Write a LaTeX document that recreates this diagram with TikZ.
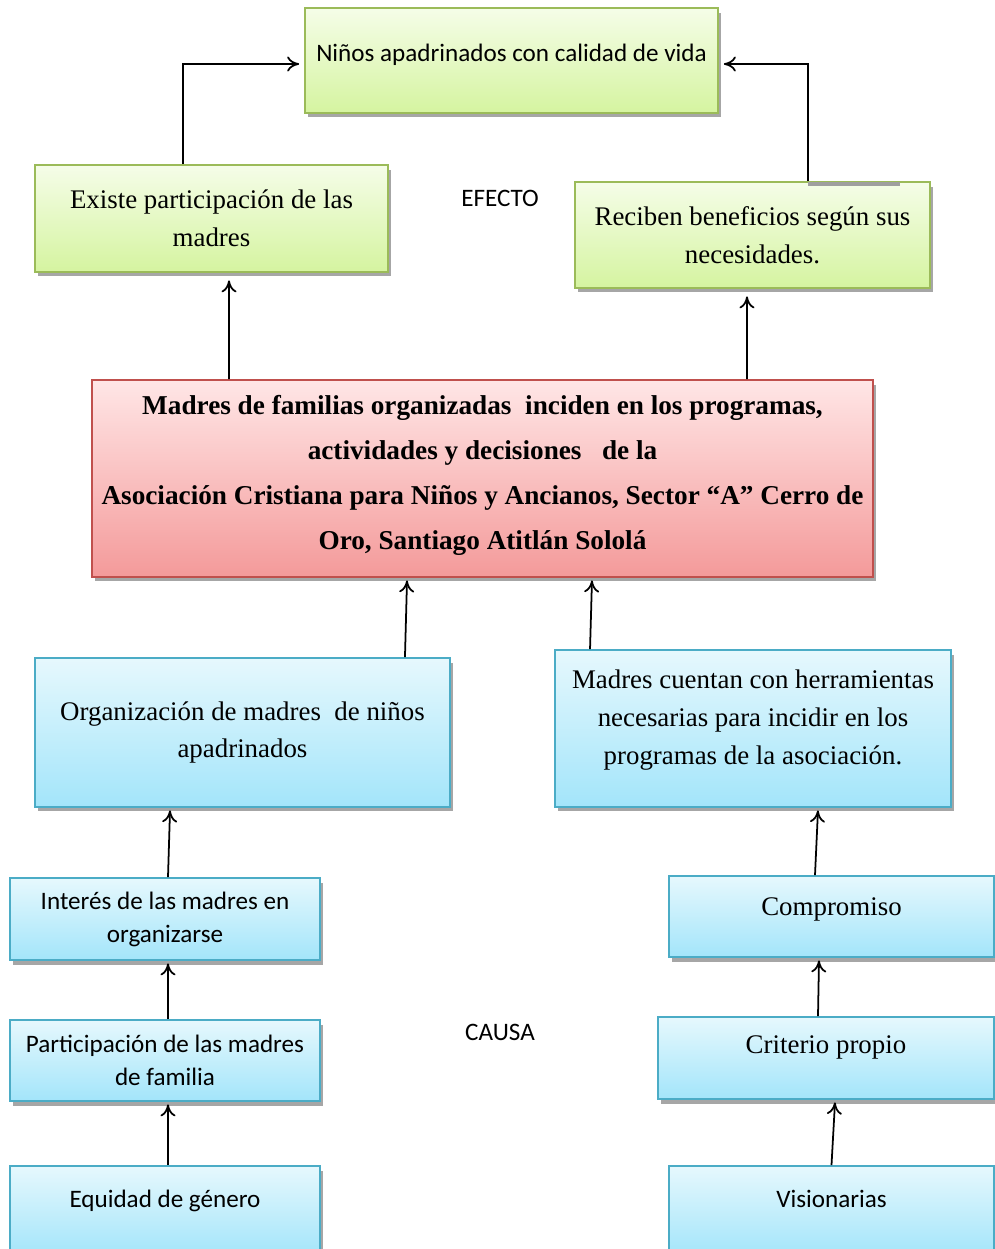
\documentclass[tikz,border=0pt]{standalone}
\usepackage{fontspec}
\setmainfont{Liberation Serif}
\newfontfamily\calibri{Carlito}
\usetikzlibrary{arrows.meta, shadows}

\definecolor{grnline}{HTML}{9BBB59}
\definecolor{grntop}{HTML}{F5FDE8}
\definecolor{grnbot}{HTML}{D5F4A0}
\definecolor{redline}{HTML}{C0504D}
\definecolor{redtop}{HTML}{FFE6E6}
\definecolor{redbot}{HTML}{F49A9A}
\definecolor{bluline}{HTML}{4BACC6}
\definecolor{blutop}{HTML}{E6F8FD}
\definecolor{blubot}{HTML}{A3E5FA}

\begin{document}
\begin{tikzpicture}[
    x=0.02cm, y=-0.02cm,
    box/.style={rectangle, draw, line width=1pt, align=center,
        drop shadow={shadow xshift=0.6mm, shadow yshift=-0.9mm, fill=black, opacity=0.35}},
    effbox/.style={box, draw=grnline, top color=grntop, bottom color=grnbot},
    midbox/.style={box, draw=redline, top color=redtop, bottom color=redbot},
    causebox/.style={box, draw=bluline, top color=blutop, bottom color=blubot},
    serif/.style={font=\fontsize{15.3}{21.5}\selectfont},
    sans/.style={font=\calibri\fontsize{14.3}{18.7}\selectfont},
    arrow/.style={-{To[length=2.4mm, width=3mm]}, line width=1pt}
]
    \useasboundingbox (0,0) rectangle (995,1249);

    % Effects
    \node [effbox, sans, minimum width=8.26cm, minimum height=2.1cm] (nino) at (511.5,60.5)
        {Niños apadrinados con calidad de vida\\[-9.7pt]};
    \node [effbox, serif, minimum width=7.06cm, minimum height=2.14cm] (existe) at (211.5,218.5)
        {Existe participación de las\\madres};
    \node [effbox, serif, minimum width=7.1cm, minimum height=2.12cm] (reciben) at (752.5,235)
        {Reciben beneficios según sus\\necesidades.};
    \node [sans] (efecto) at (500,198) {EFECTO};

    % Problem
    \node [midbox, font=\bfseries\fontsize{15.5}{25.5}\selectfont, minimum width=15.62cm, minimum height=3.94cm] (central) at (482.5,478.5)
        {Madres de familias organizadas\ \ inciden en los programas,\\
         actividades y decisiones\ \ \ de la\\
         Asociación Cristiana para Niños y Ancianos, Sector “A” Cerro de\\
         Oro, Santiago Atitlán Sololá\\[-18.7pt]};

    % Causes
    \node [causebox, serif, minimum width=8.3cm, minimum height=2.98cm] (org) at (242.5,732.5)
        {Organización de madres\ \ de niños\\apadrinados};
    \node [causebox, serif, minimum width=7.92cm, minimum height=3.14cm] (herram) at (753,728.5)
        {Madres cuentan con herramientas\\necesarias para incidir en los\\programas de la asociación.\\[-8.5pt]};
    \node [causebox, sans, minimum width=6.2cm, minimum height=1.64cm] (interes) at (165,919)
        {Interés de las madres en\\organizarse};
    \node [causebox, serif, minimum width=6.5cm, minimum height=1.62cm] (comp) at (831.5,916.5)
        {Compromiso\\[-10.7pt]};
    \node [causebox, sans, minimum width=6.2cm, minimum height=1.62cm] (partic) at (165,1060.5)
        {Participación de las madres\\de familia};
    \node [causebox, serif, minimum width=6.72cm, minimum height=1.64cm] (criterio) at (826,1058)
        {Criterio propio\\[-6.7pt]};
    \node [causebox, sans, minimum width=6.2cm, minimum height=1.8cm] (equidad) at (165,1211)
        {Equidad de género\\[-5.1pt]};
    \node [causebox, sans, minimum width=6.5cm, minimum height=1.8cm] (vision) at (831.5,1211)
        {Visionarias\\[-5.1pt]};
    \node [sans] (causa) at (500,1032) {CAUSA};

    % Arrows
    \draw [arrow] ([xshift=-0.57cm]existe.north) |- ([yshift=-0.07cm, xshift=-1mm]nino.west);
    \draw [arrow] ([xshift=1.11cm]reciben.north) |- ([yshift=-0.07cm, xshift=1mm]nino.east);
    \draw [line width=2.2pt, gray!75] ([xshift=1.11cm, yshift=-0.5mm]reciben.north) -- ([xshift=2.95cm, yshift=-0.5mm]reciben.north);
    \draw [arrow] ([xshift=-5.07cm]central.north) -- ([xshift=0.35cm, yshift=-1.5mm]existe.south);
    \draw [arrow] ([xshift=5.29cm]central.north) -- ([xshift=-0.11cm, yshift=-1.5mm]reciben.south);
    \draw [arrow] ([xshift=3.25cm]org.north) -- ([xshift=-1.51cm, yshift=-0.5mm]central.south);
    \draw [arrow] ([xshift=-3.26cm]herram.north) -- ([xshift=2.19cm, yshift=-0.5mm]central.south);
    \draw [arrow] ([xshift=0.06cm]interes.north) -- ([xshift=-1.45cm, yshift=-0.5mm]org.south);
    \draw [arrow] ([xshift=-0.33cm]comp.north) -- ([xshift=1.3cm, yshift=-0.5mm]herram.south);
    \draw [arrow] ([xshift=0.06cm]partic.north) -- ([xshift=0.06cm, yshift=-0.5mm]interes.south);
    \draw [arrow] ([xshift=-0.16cm]criterio.north) -- ([xshift=-0.25cm, yshift=-0.5mm]comp.south);
    \draw [arrow] ([xshift=0.06cm]equidad.north) -- ([xshift=0.06cm, yshift=-0.5mm]partic.south);
    \draw [arrow] (vision.north) -- ([xshift=0.18cm, yshift=-0.5mm]criterio.south);
\end{tikzpicture}
\end{document}
